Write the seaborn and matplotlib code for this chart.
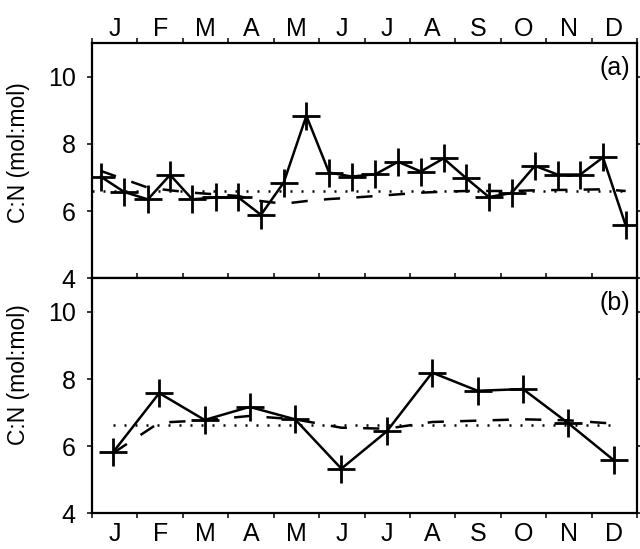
import numpy as np
import pandas as pd
import matplotlib
matplotlib.use("Agg")
import matplotlib.pyplot as plt
from matplotlib.ticker import NullFormatter
import seaborn as sns

# ---------------- data ----------------
months = ["J", "F", "M", "A", "M", "J", "J", "A", "S", "O", "N", "D"]

# panel (a): twice-monthly samples (position in months)
a_x = [0.19, 0.71, 1.23, 1.72, 2.21, 2.72, 3.22, 3.72, 4.22, 4.72, 5.22, 5.72,
       6.24, 6.74, 7.24, 7.74, 8.24, 8.74, 9.24, 9.75, 10.25, 10.75, 11.25, 11.75]
a_obs = [7.03, 6.57, 6.35, 7.08, 6.35, 6.41, 6.41, 5.89, 6.85, 8.84, 7.15, 7.03,
         7.10, 7.47, 7.18, 7.57, 6.98, 6.42, 6.54, 7.35, 7.09, 7.09, 7.60, 5.58]
a_model = [7.20, 6.95, 6.70, 6.62, 6.55, 6.50, 6.45, 6.30, 6.22, 6.30, 6.36, 6.40,
           6.45, 6.50, 6.55, 6.58, 6.60, 6.60, 6.60, 6.62, 6.63, 6.64, 6.65, 6.60]
a_mean = 6.60
a_mean_x = [0.0, 11.75]

# panel (b): monthly samples
b_x = [0.47, 1.48, 2.48, 3.47, 4.47, 5.49, 6.49, 7.49, 8.49, 9.49, 10.48, 11.49]
b_obs = [5.83, 7.58, 6.78, 7.17, 6.80, 5.33, 6.44, 8.19, 7.65, 7.70, 6.69, 5.58]
b_model = [5.80, 6.70, 6.77, 6.90, 6.80, 6.55, 6.52, 6.72, 6.76, 6.80, 6.77, 6.67]
b_mean = 6.62
b_mean_x = [0.47, 11.49]

ylabel = "C:N (mol:mol)"
panel_labels = ["(a)", "(b)"]

# ---------------- style ----------------
sns.set_style("ticks")
plt.rcParams["font.family"] = ["Liberation Sans", "DejaVu Sans"]
plt.rcParams["text.color"] = "black"
plt.rcParams["axes.labelcolor"] = "black"
plt.rcParams["xtick.color"] = "black"
plt.rcParams["ytick.color"] = "black"

fig = plt.figure(figsize=(6.4, 5.49), dpi=100)
ax_a = fig.add_axes([0.14375, 0.4931, 0.8516, 0.4281])
ax_b = fig.add_axes([0.14375, 0.0650, 0.8516, 0.4281])


def draw(ax, x, obs, model, mean, mean_x):
    sns.lineplot(x=mean_x, y=[mean, mean], ax=ax, color="black",
                 lw=1.8, linestyle=(0, (0.8, 3.6)), estimator=None, sort=False)
    sns.lineplot(x=x, y=model, ax=ax, color="black", lw=1.8,
                 linestyle=(0, (6.5, 6.5)), estimator=None, sort=False)
    sns.lineplot(x=x, y=obs, ax=ax, color="black", lw=1.8, marker="+",
                 markersize=20, markeredgewidth=2.0, markeredgecolor="black",
                 markerfacecolor="black", estimator=None, sort=False)


draw(ax_a, a_x, a_obs, a_model, a_mean, a_mean_x)
draw(ax_b, b_x, b_obs, b_model, b_mean, b_mean_x)

for ax, lab, ly in ((ax_a, panel_labels[0], 0.533), (ax_b, panel_labels[1], 0.591)):
    ax.set_xlim(0, 12)
    ax.set_ylim(4, 11)
    ax.set_xticks(range(13))
    ax.xaxis.set_major_formatter(NullFormatter())
    ax.set_xticks(np.arange(0.5, 12), minor=True)
    ax.set_xticklabels(months, minor=True)
    ax.set_yticks([4, 6, 8, 10])
    ax.tick_params(axis="y", which="major", direction="out", length=3.8,
                   width=1.1, left=True, right=True, labelsize=18, pad=8)
    for s in ax.spines.values():
        s.set_visible(True)
        s.set_linewidth(1.6)
        s.set_color("black")
    ax.set_xlabel("")
    ax.set_ylabel(ylabel, fontsize=16.5)
    ax.yaxis.set_label_coords(-0.114, ly)
    ax.text(0.987, 0.895, lab, transform=ax.transAxes, ha="right",
            va="center", fontsize=18)

# panel (a): month labels on top
ax_a.tick_params(axis="x", which="major", top=True, bottom=False,
                 direction="out", length=3.8, width=1.1,
                 labeltop=False, labelbottom=False)
ax_a.tick_params(axis="x", which="minor", top=True, bottom=False, length=0,
                 labeltop=True, labelbottom=False, labelsize=18, pad=1.5)

# panel (b): ticks on top (pointing up into panel a) and bottom, labels bottom
ax_b.tick_params(axis="x", which="major", top=True, bottom=True,
                 direction="out", length=3.8, width=1.1,
                 labeltop=False, labelbottom=False)
ax_b.tick_params(axis="x", which="minor", top=False, bottom=True, length=0,
                 labeltop=False, labelbottom=True, labelsize=18, pad=6.5)

fig.savefig("out.png", dpi=100)
